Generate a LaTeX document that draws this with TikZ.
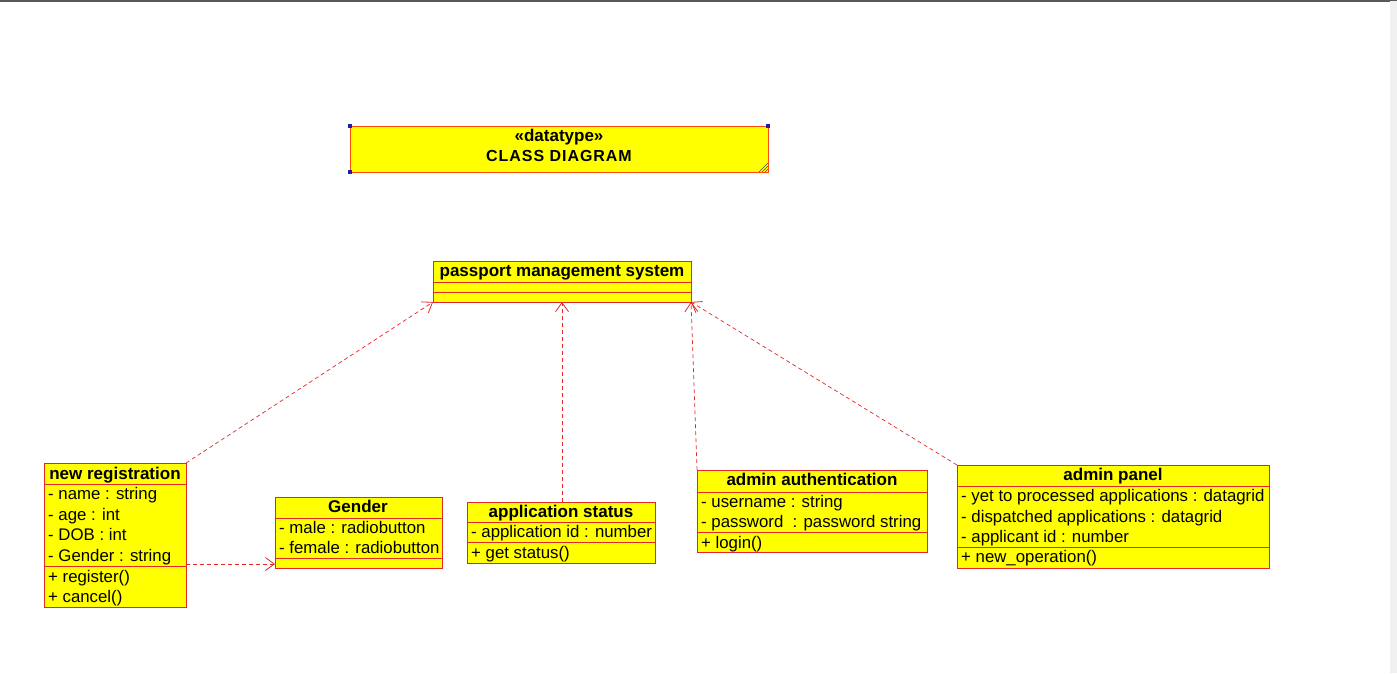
\documentclass[tikz,border=0pt]{standalone}
\usepackage{fontspec}
\setmainfont{Liberation Sans}
\newfontfamily\spacedbold[LetterSpace=6]{Liberation Sans}
\usetikzlibrary{arrows.meta}
\definecolor{umlfill}{RGB}{255,255,0}
\definecolor{umlline}{RGB}{228,40,40}
\definecolor{handle}{RGB}{30,30,170}
\begin{document}
\begin{tikzpicture}[x=1pt,y=-1pt,
  cls/.style={draw=umlline,fill=umlfill,line width=1pt,inner sep=0pt,outer sep=0pt,anchor=north west},
  sep/.style={draw=umlline,line width=1pt},
  attr/.style={anchor=mid west,inner sep=0pt,yshift=-2.5pt,font=\fontsize{16.8}{19}\selectfont},
  head/.style={anchor=mid,inner sep=0pt,yshift=-2.5pt,font=\fontsize{17}{19}\selectfont\bfseries},
  dep/.style={draw=umlline,dashed,dash pattern=on 4pt off 3pt,line width=0.7pt,-{Straight Barb[length=9pt,width=13pt,line width=0.8pt]}}]
\useasboundingbox (0,0) rectangle (1397,673);
\fill[white] (0,0) rectangle (1397,673);
\draw[gray!70!black,line width=1.5pt] (0,0.75) -- (1397,0.75);
\fill[gray!12] (1390,1) rectangle (1397,673);

% note
\node[cls,draw=orange!60!red,minimum width=418pt,minimum height=46pt] (note) at (350,126) {};
\node[head] (st) at (559,136) {«datatype»};
\node[head,font=\fontsize{16}{19}\selectfont\spacedbold\bfseries] (cd) at (559,156) {CLASS DIAGRAM};
\foreach \p in {note.north west,note.north east,note.south west}
  \fill[handle] ([xshift=-2pt,yshift=-2pt]\p) rectangle ([xshift=2pt,yshift=2pt]\p);
\foreach \d in {3,6,9}
  \draw[black!70,line width=0.5pt] ([xshift=-\d pt]note.south east) -- ([yshift=\d pt]note.south east);

% passport management system
\node[cls,minimum width=258pt,minimum height=41pt] (pms) at (433,261) {};
\draw[sep] ([yshift=-21pt]pms.north west) -- ([yshift=-21pt]pms.north east);
\draw[sep] ([yshift=-31pt]pms.north west) -- ([yshift=-31pt]pms.north east);
\node[head] (pmsh) at (562,271) {passport management system};

% new registration
\node[cls,minimum width=142pt,minimum height=144pt] (nr) at (44,463) {};
\draw[sep] ([yshift=-21pt]nr.north west) -- ([yshift=-21pt]nr.north east);
\draw[sep] ([yshift=-103pt]nr.north west) -- ([yshift=-103pt]nr.north east);
\node[head] (nrh) at (115,474) {new registration};
\node[attr] (nr1) at (48,494) {- name : string};
\node[attr] (nr2) at (48,515) {- age : int};
\node[attr] (nr3) at (48,535) {- DOB : int};
\node[attr] (nr4) at (48,556) {- Gender : string};
\node[attr] (nr5) at (48,577) {+ register()};
\node[attr] (nr6) at (48,597) {+ cancel()};

% gender
\node[cls,minimum width=167pt,minimum height=71pt] (gd) at (275,497) {};
\draw[sep] ([yshift=-21pt]gd.north west) -- ([yshift=-21pt]gd.north east);
\draw[sep] ([yshift=-61pt]gd.north west) -- ([yshift=-61pt]gd.north east);
\node[head] (gdh) at (358,507) {Gender};
\node[attr] (gd1) at (279,528) {- male : radiobutton};
\node[attr] (gd2) at (279,548) {- female : radiobutton};

% application status
\node[cls,minimum width=188pt,minimum height=61pt] (as) at (467,502) {};
\draw[sep] ([yshift=-20pt]as.north west) -- ([yshift=-20pt]as.north east);
\draw[sep] ([yshift=-40pt]as.north west) -- ([yshift=-40pt]as.north east);
\node[head] (ash) at (561,512) {application status};
\node[attr] (as1) at (471,532) {- application id : number};
\node[attr] (as2) at (471,553) {+ get status()};

% admin authentication
\node[cls,minimum width=230pt,minimum height=82pt] (aa) at (697,470) {};
\draw[sep] ([yshift=-22pt]aa.north west) -- ([yshift=-22pt]aa.north east);
\draw[sep] ([yshift=-62pt]aa.north west) -- ([yshift=-62pt]aa.north east);
\node[head] (aah) at (812,480) {admin authentication};
\node[attr] (aa1) at (701,502) {- username : string};
\node[attr] (aa2) at (701,522) {- password \ : password string};
\node[attr] (aa3) at (701,543) {+ login()};

% admin panel
\node[cls,minimum width=312pt,minimum height=103pt] (ap) at (957,465) {};
\draw[sep] ([yshift=-21pt]ap.north west) -- ([yshift=-21pt]ap.north east);
\draw[sep] ([yshift=-82pt]ap.north west) -- ([yshift=-82pt]ap.north east);
\node[head] (aph) at (1113,475) {admin panel};
\node[attr] (ap1) at (961,496) {- yet to processed applications : datagrid};
\node[attr] (ap2) at (961,517) {- dispatched applications : datagrid};
\node[attr] (ap3) at (961,537) {- applicant id : number};
\node[attr] (ap4) at (961,557) {+ new\_operation()};

% dependencies
\draw[dep] (nr.north east) -- (pms.south west);
\draw[dep] ([xshift=95pt]as.north west) -- ([xshift=129pt]pms.south west);
\draw[dep] (aa.north west) -- (pms.south east);
\draw[dep] (ap.north west) -- (pms.south east);
\draw[dep] ([yshift=-101pt]nr.north east) -- ([yshift=-67pt]gd.north west);
\end{tikzpicture}
\end{document}
